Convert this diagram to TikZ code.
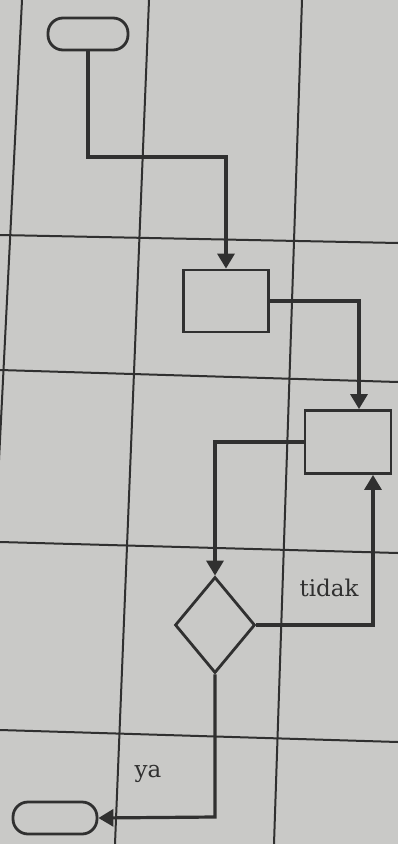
\documentclass[tikz,border=0pt]{standalone}
\usepackage{fontspec}
\setmainfont{DejaVu Serif}
\usetikzlibrary{shapes.geometric,arrows.meta}
\definecolor{paper}{RGB}{201,201,199}
\definecolor{ink}{RGB}{48,48,48}
\begin{document}
\begin{tikzpicture}[x=1pt,y=-1pt,
  grid/.style={ink,line width=2pt},
  box/.style={draw=ink,line width=2.8pt,rectangle,minimum width=85pt,minimum height=62pt,inner sep=0pt},
  term/.style={draw=ink,line width=2.8pt,rectangle,rounded corners=15pt,minimum width=80pt,minimum height=32pt,inner sep=0pt},
  dec/.style={draw=ink,line width=2.8pt,diamond,aspect=0.83,minimum width=80pt,minimum height=96pt,inner sep=0pt},
  arr/.style={ink,line width=3.2pt,-{Triangle[length=15pt,width=17pt]}},
  lbl/.style={text=ink,font=\fontsize{23}{28}\selectfont,inner sep=0pt}]
\fill[paper] (0,0) rectangle (398,844);
\useasboundingbox (0,0) rectangle (398,844);
% swimlane grid
\draw[grid] (22,0) -- (-3,500);
\draw[grid] (149,0) -- (115,844);
\draw[grid] (302,0) -- (274,844);
\draw[grid] (0,235) -- (398,243);
\draw[grid] (0,370) -- (398,382);
\draw[grid] (0,542) -- (398,553);
\draw[grid] (0,730) -- (398,742);
% nodes
\node[term] (start) at (88,34) {};
\node[box] (r1) at (226,301) {};
\node[box,minimum width=86pt,minimum height=63pt] (r2) at (348,442) {};
\node[dec] (dia) at (215,625) {};
\node[term,minimum width=84pt] (end) at (55,818) {};
\coordinate (b1) at (226,157);
\coordinate (b2) at (210,817);
% connectors
\draw[arr] (start.south) |- (b1) -- (r1.north);
\draw[arr] (r1.east) -| ([xshift=11pt]r2.north);
\draw[arr] (r2.west) -| (dia.north);
\draw[arr] (dia.east) -| ([xshift=25pt]r2.south);
\draw[arr] (dia.south) -- (dia.south |- b2) -- (end.east);
% labels
\node[lbl] (tidak) at (329,588) {tidak};
\node[lbl] (ya) at (148,774) {ya};
\end{tikzpicture}
\end{document}
